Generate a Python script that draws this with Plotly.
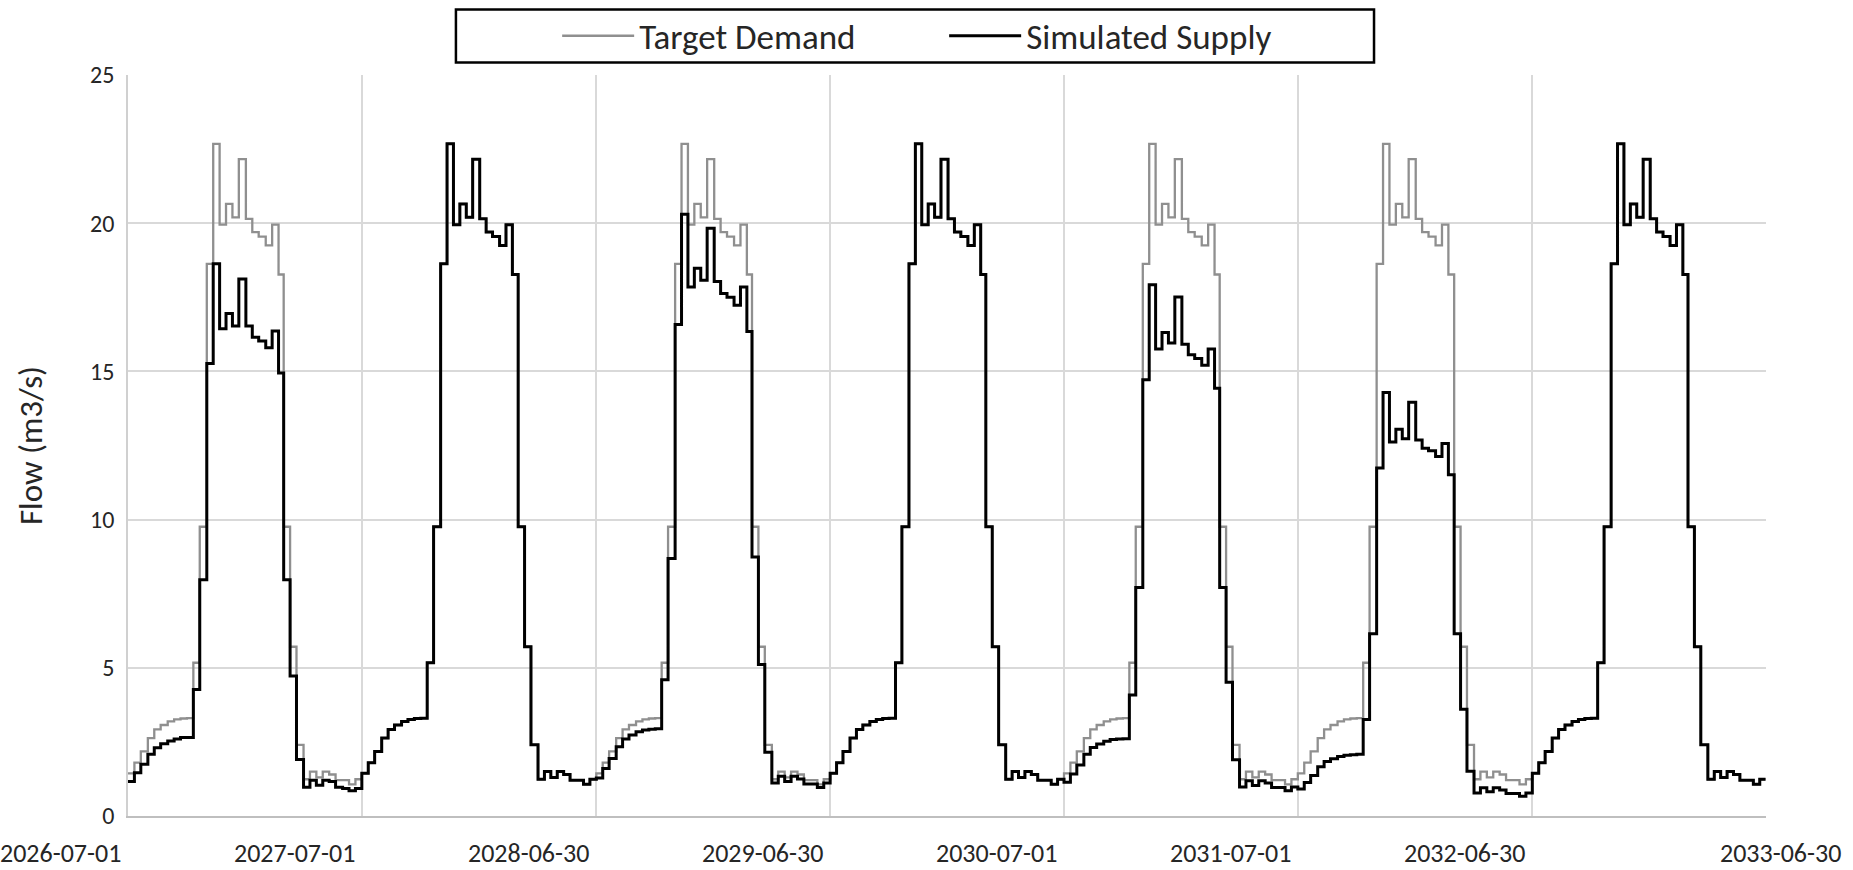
import pandas as pd
import plotly.graph_objects as go

# Water years (July to June), each split into 36 ten-day periods (dekads)
water_years = [2026, 2027, 2028, 2029, 2030, 2031, 2032]
months = [7, 8, 9, 10, 11, 12, 1, 2, 3, 4, 5, 6]
dekad_days = [1, 11, 21]
series_end = "2033-06-30"

# Target demand per dekad (m3/s)
demand_2026 = [1.44, 1.80, 2.18, 2.63, 2.92, 3.07, 3.19, 3.26, 3.29, 3.30, 5.17, 9.76,
               18.63, 22.68, 19.95, 20.65, 20.20, 22.16, 20.15, 19.70, 19.55, 19.25, 19.95, 18.27,
               9.76, 5.71, 2.40, 1.24, 1.50, 1.30, 1.50, 1.40, 1.21, 1.21, 1.07, 1.24]
demand_2027 = [1.44, 1.80, 2.18, 2.63, 2.92, 3.07, 3.19, 3.26, 3.29, 3.30, 5.17, 9.76,
               18.63, 22.68, 19.95, 20.65, 20.20, 22.16, 20.15, 19.70, 19.55, 19.25, 19.95, 18.27,
               9.76, 5.71, 2.40, 1.24, 1.50, 1.30, 1.50, 1.40, 1.21, 1.21, 1.07, 1.24]
demand_2028 = [1.44, 1.80, 2.18, 2.63, 2.92, 3.07, 3.19, 3.26, 3.29, 3.30, 5.17, 9.76,
               18.63, 22.68, 19.95, 20.65, 20.20, 22.16, 20.15, 19.70, 19.55, 19.25, 19.95, 18.27,
               9.76, 5.71, 2.40, 1.24, 1.50, 1.30, 1.50, 1.40, 1.21, 1.21, 1.07, 1.24]
demand_2029 = [1.44, 1.80, 2.18, 2.63, 2.92, 3.07, 3.19, 3.26, 3.29, 3.30, 5.17, 9.76,
               18.63, 22.68, 19.95, 20.65, 20.20, 22.16, 20.15, 19.70, 19.55, 19.25, 19.95, 18.27,
               9.76, 5.71, 2.40, 1.24, 1.50, 1.30, 1.50, 1.40, 1.21, 1.21, 1.07, 1.24]
demand_2030 = [1.44, 1.80, 2.18, 2.63, 2.92, 3.07, 3.19, 3.26, 3.29, 3.30, 5.17, 9.76,
               18.63, 22.68, 19.95, 20.65, 20.20, 22.16, 20.15, 19.70, 19.55, 19.25, 19.95, 18.27,
               9.76, 5.71, 2.40, 1.24, 1.50, 1.30, 1.50, 1.40, 1.21, 1.21, 1.07, 1.24]
demand_2031 = [1.44, 1.80, 2.18, 2.63, 2.92, 3.07, 3.19, 3.26, 3.29, 3.30, 5.17, 9.76,
               18.63, 22.68, 19.95, 20.65, 20.20, 22.16, 20.15, 19.70, 19.55, 19.25, 19.95, 18.27,
               9.76, 5.71, 2.40, 1.24, 1.50, 1.30, 1.50, 1.40, 1.21, 1.21, 1.07, 1.24]
demand_2032 = [1.44, 1.80, 2.18, 2.63, 2.92, 3.07, 3.19, 3.26, 3.29, 3.30, 5.17, 9.76,
               18.63, 22.68, 19.95, 20.65, 20.20, 22.16, 20.15, 19.70, 19.55, 19.25, 19.95, 18.27,
               9.76, 5.71, 2.40, 1.24, 1.50, 1.30, 1.50, 1.40, 1.21, 1.21, 1.07, 1.24]

# Simulated supply per dekad (m3/s)
supply_2026 = [1.16, 1.46, 1.75, 2.08, 2.30, 2.44, 2.53, 2.60, 2.65, 2.65, 4.27, 7.97,
               15.27, 18.63, 16.44, 16.95, 16.53, 18.12, 16.53, 16.15, 16.03, 15.80, 16.36, 14.95,
               7.97, 4.72, 1.91, 0.97, 1.21, 1.04, 1.21, 1.16, 0.97, 0.93, 0.85, 0.93]
supply_2027 = [1.44, 1.80, 2.18, 2.63, 2.92, 3.07, 3.19, 3.26, 3.29, 3.30, 5.17, 9.76,
               18.63, 22.68, 19.95, 20.65, 20.20, 22.16, 20.15, 19.70, 19.55, 19.25, 19.95, 18.27,
               9.76, 5.71, 2.40, 1.24, 1.50, 1.30, 1.50, 1.40, 1.21, 1.21, 1.07, 1.24]
supply_2028 = [1.28, 1.60, 1.94, 2.34, 2.60, 2.73, 2.84, 2.90, 2.93, 2.94, 4.60, 8.69,
               16.58, 20.30, 17.85, 18.48, 18.08, 19.83, 18.03, 17.63, 17.50, 17.23, 17.85, 16.35,
               8.74, 5.11, 2.15, 1.11, 1.34, 1.16, 1.34, 1.25, 1.08, 1.08, 0.96, 1.11]
supply_2029 = [1.44, 1.80, 2.18, 2.63, 2.92, 3.07, 3.19, 3.26, 3.29, 3.30, 5.17, 9.76,
               18.63, 22.68, 19.95, 20.65, 20.20, 22.16, 20.15, 19.70, 19.55, 19.25, 19.95, 18.27,
               9.76, 5.71, 2.40, 1.24, 1.50, 1.30, 1.50, 1.40, 1.21, 1.21, 1.07, 1.24]
supply_2030 = [1.14, 1.42, 1.72, 2.08, 2.31, 2.43, 2.52, 2.58, 2.60, 2.61, 4.08, 7.71,
               14.72, 17.92, 15.76, 16.31, 15.96, 17.51, 15.92, 15.56, 15.44, 15.21, 15.76, 14.43,
               7.71, 4.51, 1.90, 0.98, 1.19, 1.03, 1.19, 1.11, 0.96, 0.96, 0.85, 0.98]
supply_2031 = [0.91, 1.13, 1.37, 1.66, 1.84, 1.93, 2.01, 2.05, 2.07, 2.08, 3.26, 6.15,
               11.74, 14.29, 12.62, 13.05, 12.73, 13.96, 12.69, 12.41, 12.32, 12.13, 12.57, 11.51,
               6.15, 3.60, 1.51, 0.78, 0.95, 0.82, 0.95, 0.88, 0.76, 0.76, 0.67, 0.78]
supply_2032 = [1.44, 1.80, 2.18, 2.63, 2.92, 3.07, 3.19, 3.26, 3.29, 3.30, 5.17, 9.76,
               18.63, 22.68, 19.95, 20.65, 20.20, 22.16, 20.15, 19.70, 19.55, 19.25, 19.95, 18.27,
               9.76, 5.71, 2.40, 1.24, 1.50, 1.30, 1.50, 1.40, 1.21, 1.21, 1.07, 1.24]

tick_labels = ["2026-07-01", "2027-07-01", "2028-06-30", "2029-06-30",
               "2030-07-01", "2031-07-01", "2032-06-30", "2033-06-30"]
y_ticks = [0, 5, 10, 15, 20, 25]

demand = (demand_2026 + demand_2027 + demand_2028 + demand_2029
          + demand_2030 + demand_2031 + demand_2032)
supply = (supply_2026 + supply_2027 + supply_2028 + supply_2029
          + supply_2030 + supply_2031 + supply_2032)


def dekad_starts(wy):
    out = []
    for m in months:
        yr = wy if m >= 7 else wy + 1
        for d in dekad_days:
            out.append(pd.Timestamp(yr, m, d))
    return out


dates = [t for wy in water_years for t in dekad_starts(wy)]
# close the last step at the end of the record
x_vals = dates + [pd.Timestamp(series_end)]
demand_y = demand + [demand[-1]]
supply_y = supply + [supply[-1]]

FONT = "Carlito, Lato, sans-serif"
TEXT = "#262626"
GRID = "#d9d9d9"

fig = go.Figure()
fig.add_trace(go.Scatter(x=x_vals, y=demand_y, name="Target Demand", mode="lines",
                         line=dict(color="#8f8f8f", width=2.3, shape="hv")))
fig.add_trace(go.Scatter(x=x_vals, y=supply_y, name="Simulated Supply", mode="lines",
                         line=dict(color="#000000", width=3, shape="hv")))

# ticks every 365.25 days from the start of the record
start = pd.Timestamp(tick_labels[0])
tick_pos = [start + pd.Timedelta(days=365.25 * i) for i in range(len(tick_labels))]
x_end = tick_pos[-1] + pd.Timedelta(minutes=1)

fig.update_xaxes(
    type="date", range=[start, x_end],
    tickmode="array", tickvals=tick_pos, ticktext=tick_labels,
    showticklabels=False,
    showgrid=True, gridcolor=GRID, gridwidth=1.6,
    showline=True, linecolor="#bfbfbf", linewidth=2.4,
    ticks="", zeroline=False,
)
fig.update_yaxes(
    range=[0, 25.001], tickvals=y_ticks,
    showgrid=True, gridcolor=GRID, gridwidth=1.6,
    showline=True, linecolor="#d0d0d0", linewidth=1.6,
    ticks="", zeroline=False,
    tickfont=dict(family=FONT, size=24, color=TEXT),
    ticklabelstandoff=7,
    title=dict(text="Flow (m3/s)", font=dict(family=FONT, size=33, color=TEXT), standoff=38),
)

# date labels under the axis: right-aligned to their gridline, last one centred past the edge
for i, (pos, lab) in enumerate(zip(tick_pos, tick_labels)):
    last = i == len(tick_labels) - 1
    fig.add_annotation(
        x=pos, xref="x", y=0, yref="paper", text=lab, showarrow=False,
        xanchor="center" if last else "right", xshift=14 if last else -5,
        yanchor="middle", yshift=-37,
        font=dict(family=FONT, size=26, color=TEXT),
    )

# legend frame
fig.add_shape(type="rect", xref="paper", yref="paper",
              x0=0.2002, x1=0.7607, y0=1.0169, y1=1.0884,
              line=dict(color="#000000", width=2.5), fillcolor="rgba(0,0,0,0)")

fig.update_layout(
    width=1853, height=870,
    margin=dict(l=128, r=87, t=75, b=54, autoexpand=False),
    paper_bgcolor="white", plot_bgcolor="white",
    showlegend=True,
    legend=dict(orientation="h", x=0.262, xanchor="left", y=1.0526, yanchor="middle",
                font=dict(family=FONT, size=35, color=TEXT),
                itemwidth=72, entrywidth=300, bgcolor="rgba(0,0,0,0)", borderwidth=0),
)

fig.write_html("out.html")
